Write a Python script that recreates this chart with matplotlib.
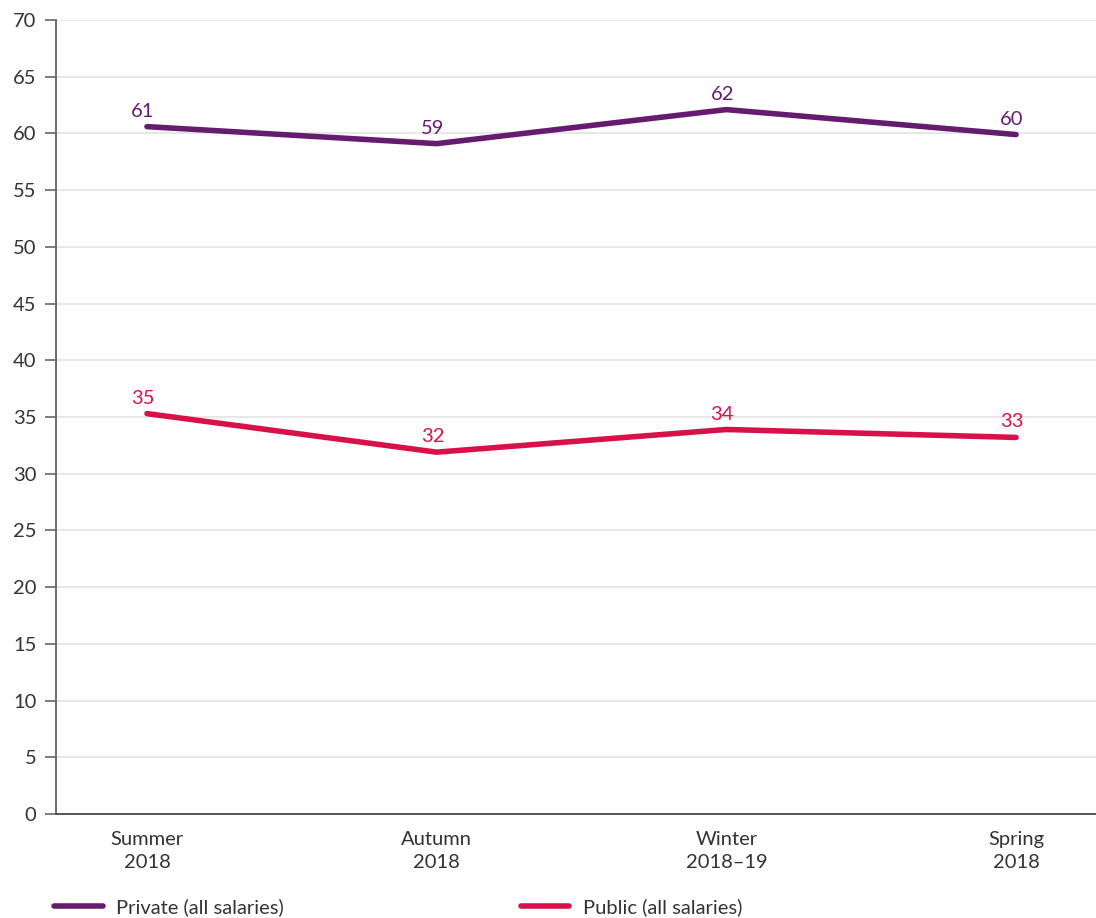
import numpy as np
import matplotlib.pyplot as plt

# survey waves and share of respondents (%)
periods = ["Summer\n2018", "Autumn\n2018", "Winter\n2018\u201319", "Spring\n2018"]
private_vals = [60.6, 59.1, 62.1, 59.9]
public_vals = [35.3, 31.9, 33.9, 33.2]
private_labels = ["61", "59", "62", "60"]
public_labels = ["35", "32", "34", "33"]

PURPLE = "#661c6e"
RED = "#d81149"
FS = 14.5

plt.rcParams["font.family"] = ["Lato", "DejaVu Sans"]

fig = plt.figure(figsize=(10.96, 9.18), dpi=100)
ax = fig.add_axes([56 / 1096, 1 - 814 / 918, 1 - 56 / 1096, (814 - 20) / 918])

x = np.arange(len(periods))
ax.plot(x, private_vals, color=PURPLE, lw=4, solid_capstyle="round",
        label="Private (all salaries)", zorder=3)
ax.plot(x, public_vals, color=RED, lw=4, solid_capstyle="round",
        label="Public (all salaries)", zorder=3)

# value labels above each point
for xi, v, t in zip(x, private_vals, private_labels):
    ax.annotate(t, (xi, v), xytext=(-3, 5), textcoords="offset points",
                ha="center", va="bottom", color=PURPLE, fontsize=FS)
for xi, v, t in zip(x, public_vals, public_labels):
    ax.annotate(t, (xi, v), xytext=(-3, 5), textcoords="offset points",
                ha="center", va="bottom", color=RED, fontsize=FS)

ax.set_ylim(0, 70)
ax.set_yticks(np.arange(0, 71, 5))
ax.set_xlim(-0.314, 3.276)
ax.set_xticks(x)
ax.set_xticklabels(periods, linespacing=1.45)
ax.tick_params(axis="x", length=0, pad=12, labelsize=FS, labelcolor="#333333")
ax.tick_params(axis="y", length=8, width=1.2, color="#666666", pad=6,
               labelsize=FS, labelcolor="#333333")
ax.grid(axis="y", color="#e3e3e3", lw=1.2)
ax.set_axisbelow(True)

for s in ["top", "right"]:
    ax.spines[s].set_visible(False)
ax.spines["left"].set_color("#6b6b6b")
ax.spines["left"].set_linewidth(1.4)
ax.spines["bottom"].set_color("#555555")
ax.spines["bottom"].set_linewidth(1.4)

fig.legend(loc="lower left", bbox_to_anchor=(0.033, -0.018), ncol=2,
           frameon=False, fontsize=FS, handlelength=2.4, handletextpad=0.65,
           columnspacing=11.8, labelcolor="#333333")

fig.savefig("out.png", dpi=100)
